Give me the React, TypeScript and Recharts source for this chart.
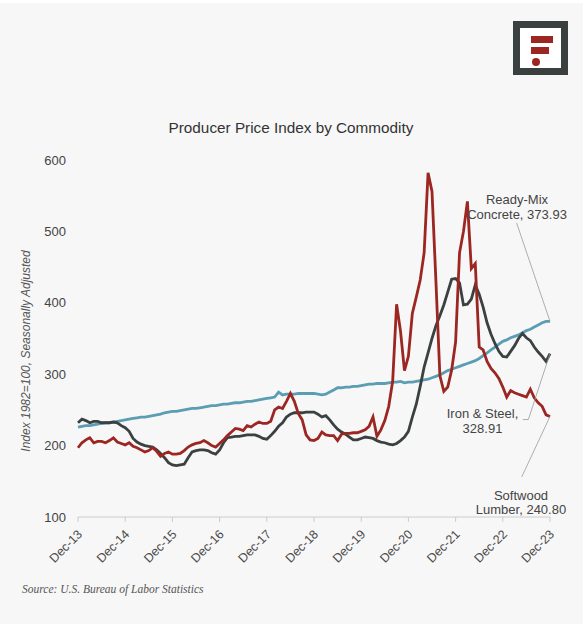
import React from "react";
import { LineChart, Line, XAxis, YAxis, ReferenceLine } from "recharts";

const tickLabels = ["Dec-13", "Dec-14", "Dec-15", "Dec-16", "Dec-17", "Dec-18", "Dec-19", "Dec-20", "Dec-21", "Dec-22", "Dec-23"];
const xTicks = [0, 12, 24, 36, 48, 60, 72, 84, 96, 108, 120];
const yTicks = [100, 200, 300, 400, 500, 600];

// Monthly, Dec-2013 .. Dec-2023
const ironSteel = [
  232, 237, 235, 232, 234, 234, 232, 232, 232, 233, 232, 228,
  225, 220, 210, 205, 202, 200, 199, 198, 194, 189, 183, 176,
  173, 172, 173, 174, 183, 191, 193, 194, 194, 193, 190, 188,
  194, 204, 211, 212, 213, 213, 214, 215, 215, 215, 213, 210,
  209, 214, 220, 227, 232, 240, 244, 246, 246, 246, 247, 247,
  247, 244, 240, 242, 236, 229, 223, 219, 216, 212, 208, 208,
  210, 212, 211, 210, 207, 205, 204, 202, 201, 203, 207, 212,
  220, 240, 258, 283, 310, 330, 350, 368, 382, 397, 415, 433,
  434, 428, 397, 398, 405, 425, 412, 394, 372, 356, 343, 332,
  325, 324, 332, 340, 350, 357, 351, 347, 338, 331, 325, 318,
  328.91,
];

const softwoodLumber = [
  197, 204, 208, 211, 204, 206, 206, 204, 207, 211, 205, 203,
  201, 204, 199, 197, 194, 191, 193, 197, 192, 185, 189, 191,
  188, 188, 189, 193, 198, 201, 203, 204, 207, 204, 200, 198,
  203, 208, 214, 219, 224, 223, 221, 228, 226, 230, 233, 231,
  231, 234, 250, 254, 252, 262, 273, 262, 245, 236, 215, 208,
  207, 210, 219, 215, 214, 214, 207, 216, 217, 217, 218, 218,
  220, 222, 227, 240, 213, 222, 235, 255, 290, 398, 360, 305,
  325, 385, 408, 432, 470, 582, 556, 430, 298, 276, 282, 306,
  345, 470, 500, 542, 448, 455, 338, 334, 318, 308, 302, 294,
  282, 268, 277, 274, 272, 270, 268, 279, 267, 260, 255, 243,
  240.8,
];

const readyMixConcrete = [
  226, 227, 228, 228, 229, 230, 231, 232, 232, 233, 234, 235,
  236, 237, 238, 239, 240, 240, 241, 242, 243, 244, 246, 247,
  248, 248, 249, 250, 251, 252, 252, 253, 254, 255, 256, 256,
  257, 258, 258, 259, 260, 260, 261, 262, 262, 263, 264, 265,
  266, 267, 268, 275, 271, 272, 272, 272, 273, 273, 273, 273,
  273, 272, 271, 272, 275, 278, 281, 281, 282, 282, 283, 283,
  284, 285, 286, 286, 287, 287, 287, 288, 289, 289, 290, 288,
  289, 289, 290, 291, 292, 293, 295, 297, 299, 302, 305, 307,
  309, 311, 313, 315, 317, 319, 322, 326, 330, 334, 338, 342,
  346, 348, 351, 353, 355, 358, 361, 363, 366, 369, 372, 374,
  373.93,
];

const data = ironSteel.map((v, i) => ({
  m: i,
  iron: v,
  lumber: softwoodLumber[i],
  concrete: readyMixConcrete[i],
}));

const RED = "#9b2622";
const DARK = "#3b4040";
const BLUE = "#5b9db3";
const LEADER = "#9a9a9a";

const XTick = (props: any) => {
  const { x, y, payload } = props;
  const label = tickLabels[xTicks.indexOf(payload.value)];
  const ax = x + 5;
  const ay = y + 11;
  return (
    <text
      x={ax}
      y={ay}
      transform={`rotate(-45, ${ax}, ${ay})`}
      textAnchor="end"
      fontSize={12.5}
      fill="#4a4a4a"
      fontFamily="Liberation Sans, Arial, sans-serif"
    >
      {label}
    </text>
  );
};

export default function App() {
  const font = "Liberation Sans, Arial, sans-serif";
  return (
    <div style={{ position: "absolute", left: 0, top: 0, width: 583, height: 624, background: "#ffffff" }}>
      <div style={{ position: "absolute", left: 0, top: 3, width: 583, height: 621, background: "#f7f7f7" }} />
      {/* logo */}
      <div
        style={{
          position: "absolute",
          left: 513,
          top: 21,
          width: 55,
          height: 54,
          boxSizing: "border-box",
          border: "7px solid #3a3f3f",
          background: "#ffffff",
        }}
      />
      <div style={{ position: "absolute", left: 531, top: 36, width: 22, height: 7, background: RED }} />
      <div style={{ position: "absolute", left: 531, top: 47, width: 18, height: 7, background: RED }} />
      <div style={{ position: "absolute", left: 532, top: 58, width: 8, height: 8, borderRadius: 4, background: RED }} />

      <div style={{ position: "absolute", left: 0, top: 0 }}>
        <LineChart
          width={583}
          height={624}
          data={data}
          margin={{ top: 160, right: 33, bottom: 47, left: 0 }}
        >
          <XAxis
            dataKey="m"
            type="number"
            domain={[0, 120]}
            ticks={xTicks}
            interval={0}
            height={60}
            stroke="#cccccc"
            tickSize={5}
            tick={<XTick />}
          />
          <YAxis
            type="number"
            domain={[100, 600]}
            ticks={yTicks}
            interval={0}
            width={78}
            axisLine={false}
            tickLine={false}
            tickSize={0}
            tickMargin={12}
            tick={{ fontSize: 13, fill: "#444", fontFamily: font }}
          />
          <Line dataKey="concrete" stroke={BLUE} strokeWidth={2.8} dot={false} isAnimationActive={false} />
          <Line dataKey="iron" stroke={DARK} strokeWidth={2.8} dot={false} isAnimationActive={false} />
          <Line dataKey="lumber" stroke={RED} strokeWidth={2.8} dot={false} isAnimationActive={false} />
          <ReferenceLine
            segment={[{ x: 111.5, y: 512 }, { x: 120, y: 373.93 }]}
            stroke={LEADER}
            strokeWidth={0.8}
          />
          <ReferenceLine
            segment={[{ x: 113.1, y: 236.5 }, { x: 114.5, y: 236.5 }]}
            stroke={LEADER}
            strokeWidth={0.8}
          />
          <ReferenceLine
            segment={[{ x: 114.5, y: 236.5 }, { x: 120, y: 328.91 }]}
            stroke={LEADER}
            strokeWidth={0.8}
          />
          <ReferenceLine
            segment={[{ x: 112.8, y: 156 }, { x: 120, y: 240.8 }]}
            stroke={LEADER}
            strokeWidth={0.8}
          />
        </LineChart>
      </div>

      <svg
        width={583}
        height={624}
        style={{ position: "absolute", left: 0, top: 0, pointerEvents: "none" }}
      >
        <text x={291} y={133} textAnchor="middle" fontSize={15.3} fill="#333" fontFamily={font}>
          Producer Price Index by Commodity
        </text>
        <text
          x={26}
          y={351}
          transform="rotate(-90, 26, 351)"
          textAnchor="middle"
          dominantBaseline="central"
          fontSize={12}
          fontStyle="italic"
          fill="#555"
          fontFamily={font}
        >
          Index 1982=100, Seasonally Adjusted
        </text>
        <g fontSize={13} fill="#444" fontFamily={font} textAnchor="middle">
          <text x={517} y={203.5}>Ready-Mix</text>
          <text x={517} y={218.5}>Concrete, 373.93</text>
          <text x={482.5} y={417.5}>Iron &amp; Steel,</text>
          <text x={482.5} y={432.5}>328.91</text>
          <text x={521} y={499.5}>Softwood</text>
          <text x={521} y={513.5}>Lumber, 240.80</text>
        </g>
        <text
          x={22}
          y={593}
          fontSize={11.5}
          fontStyle="italic"
          fill="#555"
          fontFamily="Liberation Serif, Georgia, serif"
        >
          Source: U.S. Bureau of Labor Statistics
        </text>
      </svg>
    </div>
  );
}
